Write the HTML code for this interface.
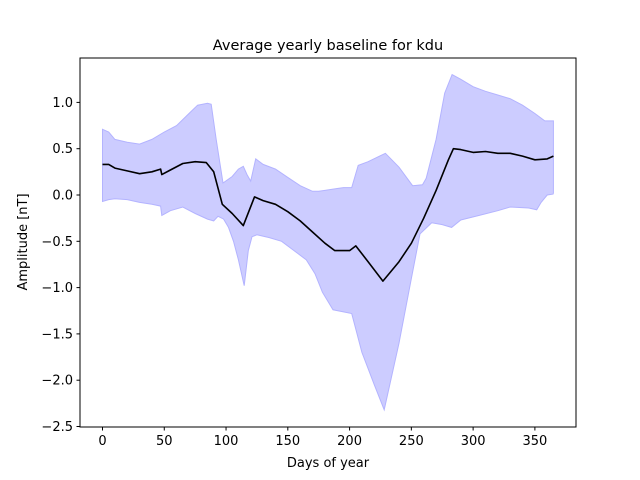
<!DOCTYPE html>
<html><head><meta charset="utf-8"><style>
body{margin:0;background:#fff}
svg{display:block;font-family:"DejaVu Sans","Liberation Sans",sans-serif}
</style></head><body>
<svg id="chart" width="640" height="480" viewBox="0 0 640 480">
<rect width="640" height="480" fill="#fff"/>
<text x="328" y="50" text-anchor="middle" font-size="14.5">Average yearly baseline for kdu</text>
<g id="band"></g><g id="line"></g>
<rect x="80" y="58" width="496" height="369" fill="none" stroke="#000" stroke-width="1"/>
<g id="xt"></g><g id="yt"></g>
<text x="328" y="467" text-anchor="middle" font-size="13">Days of year</text>
<text transform="translate(27,242) rotate(-90)" text-anchor="middle" font-size="13">Amplitude [nT]</text>
</svg>
<script>
const meanDays=[0,5,10,20,30,40,47,48,55,65,75,84,90,97,105,114,123,130,140,150,160,170,180,188,200,205,215,227,240,250,260,270,280,284,290,300,310,320,330,340,350,360,365];
const meanVals=[0.33,0.33,0.29,0.26,0.23,0.25,0.28,0.22,0.27,0.34,0.36,0.35,0.25,-0.1,-0.2,-0.33,-0.02,-0.06,-0.1,-0.18,-0.28,-0.4,-0.52,-0.6,-0.6,-0.55,-0.72,-0.93,-0.72,-0.52,-0.25,0.05,0.38,0.5,0.49,0.46,0.47,0.45,0.45,0.42,0.38,0.39,0.42];
const upDays=[0,5,10,20,30,40,50,60,70,77,85,88,92,97.5,105,110,114,117,120,124,130,140,150,160,170,175,180,190,195,201.7,207,215,229,240,251,259,262,270,277,283,290,300,310,320,330,340,350,358,362,365];
const upVals=[0.71,0.68,0.6,0.57,0.55,0.6,0.68,0.75,0.88,0.97,0.99,0.98,0.6,0.13,0.2,0.28,0.31,0.22,0.15,0.39,0.33,0.28,0.19,0.1,0.04,0.04,0.05,0.07,0.08,0.08,0.32,0.36,0.45,0.3,0.1,0.11,0.18,0.6,1.1,1.3,1.25,1.17,1.12,1.08,1.04,0.97,0.88,0.8,0.8,0.8];
const loDays=[0,5,10,20,30,40,47,48,55,65,75,85,90,93.5,98,102,106,110,114.7,118,121,125,135,145,155,165,172,178,186.6,201.7,210,220,228,240,250,257,266.5,275,282.6,290,305,320,330,345,351.5,355,360,364.7,365];
const loVals=[-0.07,-0.05,-0.04,-0.05,-0.08,-0.1,-0.12,-0.22,-0.17,-0.13,-0.2,-0.26,-0.28,-0.23,-0.26,-0.35,-0.5,-0.7,-0.98,-0.6,-0.45,-0.43,-0.46,-0.5,-0.6,-0.7,-0.85,-1.05,-1.24,-1.28,-1.7,-2.05,-2.32,-1.6,-0.9,-0.42,-0.3,-0.32,-0.35,-0.27,-0.22,-0.17,-0.13,-0.14,-0.16,-0.08,0.0,0.01,0.02];
const xTicks=[0,50,100,150,200,250,300,350];
const yTicks=[-2.5,-2.0,-1.5,-1.0,-0.5,0.0,0.5,1.0];
const yLabels=["\u22122.5","\u22122.0","\u22121.5","\u22121.0","\u22120.5","0.0","0.5","1.0"];
const X=d=>102.5+d*1.2354, Y=v=>195-v*92.6;
const NS="http://www.w3.org/2000/svg";
function mk(t,a,p){const e=document.createElementNS(NS,t);for(const k in a)e.setAttribute(k,a[k]);p.appendChild(e);return e;}
let d="M"+upDays.map((x,i)=>X(x).toFixed(1)+","+Y(upVals[i]).toFixed(1)).join("L");
for(let i=loDays.length-1;i>=0;i--)d+="L"+X(loDays[i]).toFixed(1)+","+Y(loVals[i]).toFixed(1);
d+="Z";
const band=mk("path",{d:d,fill:"#ccccff",stroke:"#b3b3ff","stroke-width":"1"},document.getElementById("band"));


const ln=mk("polyline",{points:meanDays.map((x,i)=>X(x).toFixed(1)+","+Y(meanVals[i]).toFixed(1)).join(" "),fill:"none",stroke:"#000","stroke-width":"1.6","stroke-linejoin":"round"},document.getElementById("line"));


const xt=document.getElementById("xt"),yt=document.getElementById("yt");
xTicks.forEach(t=>{const x=X(t);
 mk("line",{x1:x,x2:x,y1:427,y2:430.5,stroke:"#000"},xt);
 const e=mk("text",{x:x,y:445,"text-anchor":"middle","font-size":"13"},xt);e.textContent=t;
 
 });
yTicks.forEach((t,i)=>{const y=Y(t);
 mk("line",{x1:76.5,x2:80,y1:y,y2:y,stroke:"#000"},yt);
 const e=mk("text",{x:73,y:y+4.5,"text-anchor":"end","font-size":"13"},yt);e.textContent=yLabels[i];
 
 });
</script>
</body></html>
